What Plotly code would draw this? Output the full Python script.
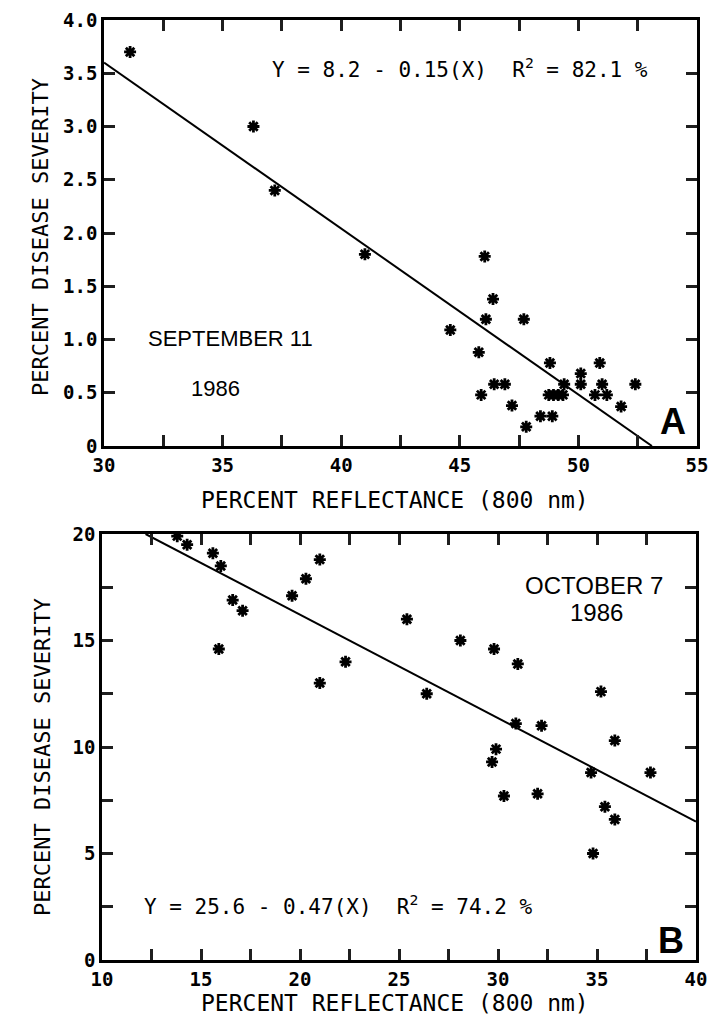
import plotly.graph_objects as go

# ---------------- Panel A: September 11, 1986 ----------------
sep_reflectance = [31.1, 36.3, 37.2, 41.0, 44.6, 45.8, 45.9, 46.05, 46.1, 46.4, 46.45,
                   46.9, 47.2, 47.7, 47.8, 48.4, 48.9, 48.8, 48.75, 48.95, 49.15, 49.35,
                   49.4, 50.1, 50.1, 50.9, 51.0, 50.7, 51.2, 51.8, 52.4]
sep_severity = [3.70, 3.00, 2.40, 1.80, 1.09, 0.88, 0.48, 1.78, 1.19, 1.38, 0.58,
                0.58, 0.38, 1.19, 0.18, 0.28, 0.28, 0.78, 0.48, 0.48, 0.48, 0.48,
                0.58, 0.68, 0.58, 0.78, 0.58, 0.48, 0.48, 0.37, 0.58]
sep_fit_x = [30.0, 53.1]
sep_fit_y = [3.6, 0.0]
sep_xticks = [30, 32.5, 35, 37.5, 40, 42.5, 45, 47.5, 50, 52.5, 55]
sep_xlabels = ["30", "", "35", "", "40", "", "45", "", "50", "", "55"]
sep_yticks = [0, 0.5, 1.0, 1.5, 2.0, 2.5, 3.0, 3.5, 4.0]
sep_ylabels = ["0", "0.5", "1.0", "1.5", "2.0", "2.5", "3.0", "3.5", "4.0"]

# ---------------- Panel B: October 7, 1986 ----------------
oct_reflectance = [13.8, 14.3, 15.6, 16.0, 16.6, 17.1, 15.9, 19.6, 20.3, 21.0, 21.0,
                   22.3, 25.4, 26.4, 28.1, 29.8, 31.0, 29.7, 29.9, 30.3, 30.9, 32.2,
                   32.0, 34.7, 34.8, 35.2, 35.4, 35.9, 35.9, 37.7]
oct_severity = [19.9, 19.5, 19.1, 18.5, 16.9, 16.4, 14.6, 17.1, 17.9, 18.8, 13.0,
                14.0, 16.0, 12.5, 15.0, 14.6, 13.9, 9.3, 9.9, 7.7, 11.1, 11.0,
                7.8, 8.8, 5.0, 12.6, 7.2, 10.3, 6.6, 8.8]
oct_fit_x = [12.2, 40.0]
oct_fit_y = [20.0, 6.5]
oct_xticks = [10, 12.5, 15, 17.5, 20, 22.5, 25, 27.5, 30, 32.5, 35, 37.5, 40]
oct_xlabels = ["10", "", "15", "", "20", "", "25", "", "30", "", "35", "", "40"]
oct_yticks = [0, 2.5, 5, 7.5, 10, 12.5, 15, 17.5, 20]
oct_ylabels = ["0", "", "5", "", "10", "", "15", "", "20"]

MONO = "DejaVu Sans Mono"
SANS = "Liberation Sans"

fig = go.Figure()

marker = dict(symbol="asterisk-open", size=10, color="black",
              line=dict(color="black", width=2.8))

fig.add_trace(go.Scatter(x=sep_reflectance, y=sep_severity, mode="markers",
                         marker=marker, xaxis="x", yaxis="y", showlegend=False))
fig.add_trace(go.Scatter(x=sep_fit_x, y=sep_fit_y, mode="lines",
                         line=dict(color="black", width=2), xaxis="x", yaxis="y",
                         showlegend=False))
fig.add_trace(go.Scatter(x=oct_reflectance, y=oct_severity, mode="markers",
                         marker=marker, xaxis="x2", yaxis="y2", showlegend=False))
fig.add_trace(go.Scatter(x=oct_fit_x, y=oct_fit_y, mode="lines",
                         line=dict(color="black", width=2), xaxis="x2", yaxis="y2",
                         showlegend=False))

tickfont = dict(family=MONO, size=19, color="black", weight="bold")

def ax(rng, anchor, domain, vals, labels):
    return dict(range=rng, domain=domain, anchor=anchor,
                tickmode="array", tickvals=vals, ticktext=labels,
                ticks="inside", ticklen=11, tickwidth=2.5, tickcolor="#1f1f1f",
                showline=True, linecolor="black", linewidth=2.5, mirror="ticks",
                showgrid=False, zeroline=False, tickfont=tickfont,
                automargin=False, fixedrange=True)

fig.update_layout(
    template="none",
    width=716, height=1024,
    margin=dict(l=0, r=0, t=0, b=0),
    paper_bgcolor="white", plot_bgcolor="white",
    xaxis=ax([30, 55], "y", [104 / 716, 697 / 716], sep_xticks, sep_xlabels),
    yaxis=ax([0, 4], "x", [1 - 446 / 1024, 1 - 20 / 1024], sep_yticks, sep_ylabels),
    xaxis2=ax([10, 40], "y2", [102 / 716, 696 / 716], oct_xticks, oct_xlabels),
    yaxis2=ax([0, 20], "x2", [1 - 960 / 1024, 1 - 534 / 1024], oct_yticks, oct_ylabels),
)

ann = []
def a(text, x, y, size, family=MONO, weight="normal", angle=0):
    ann.append(dict(text=text, x=x, y=y, xref="paper", yref="paper",
                    showarrow=False, textangle=angle,
                    font=dict(family=family, size=size, color="black", weight=weight),
                    xanchor="center", yanchor="middle"))

# axis titles
a("PERCENT DISEASE SEVERITY", 40 / 716, 1 - 237 / 1024, 22, angle=-90)
a("PERCENT DISEASE SEVERITY", 42 / 716, 1 - 757 / 1024, 22, angle=-90)
a("PERCENT REFLECTANCE (800 nm)", 395 / 716, 1 - 500 / 1024, 23)
a("PERCENT REFLECTANCE (800 nm)", 395 / 716, 1 - 1003 / 1024, 23)

# panel A text
a("Y = 8.2 - 0.15(X)  R<sup>2</sup> = 82.1 %", 460 / 716, 1 - 68 / 1024, 21)
a("SEPTEMBER 11", 231 / 716, 1 - 338 / 1024, 22, family=SANS)
a("1986", 215 / 716, 1 - 388 / 1024, 22, family=SANS)
a("A", 673 / 716, 1 - 421 / 1024, 36, family=SANS, weight="bold")

# panel B text
a("OCTOBER 7", 594 / 716, 1 - 585 / 1024, 24, family=SANS)
a("1986", 596 / 716, 1 - 612 / 1024, 24, family=SANS)
a("Y = 25.6 - 0.47(X)  R<sup>2</sup> = 74.2 %", 338 / 716, 1 - 905 / 1024, 21)
a("B", 671 / 716, 1 - 940 / 1024, 36, family=SANS, weight="bold")

fig.update_layout(annotations=ann)

fig.write_html("out.html")
